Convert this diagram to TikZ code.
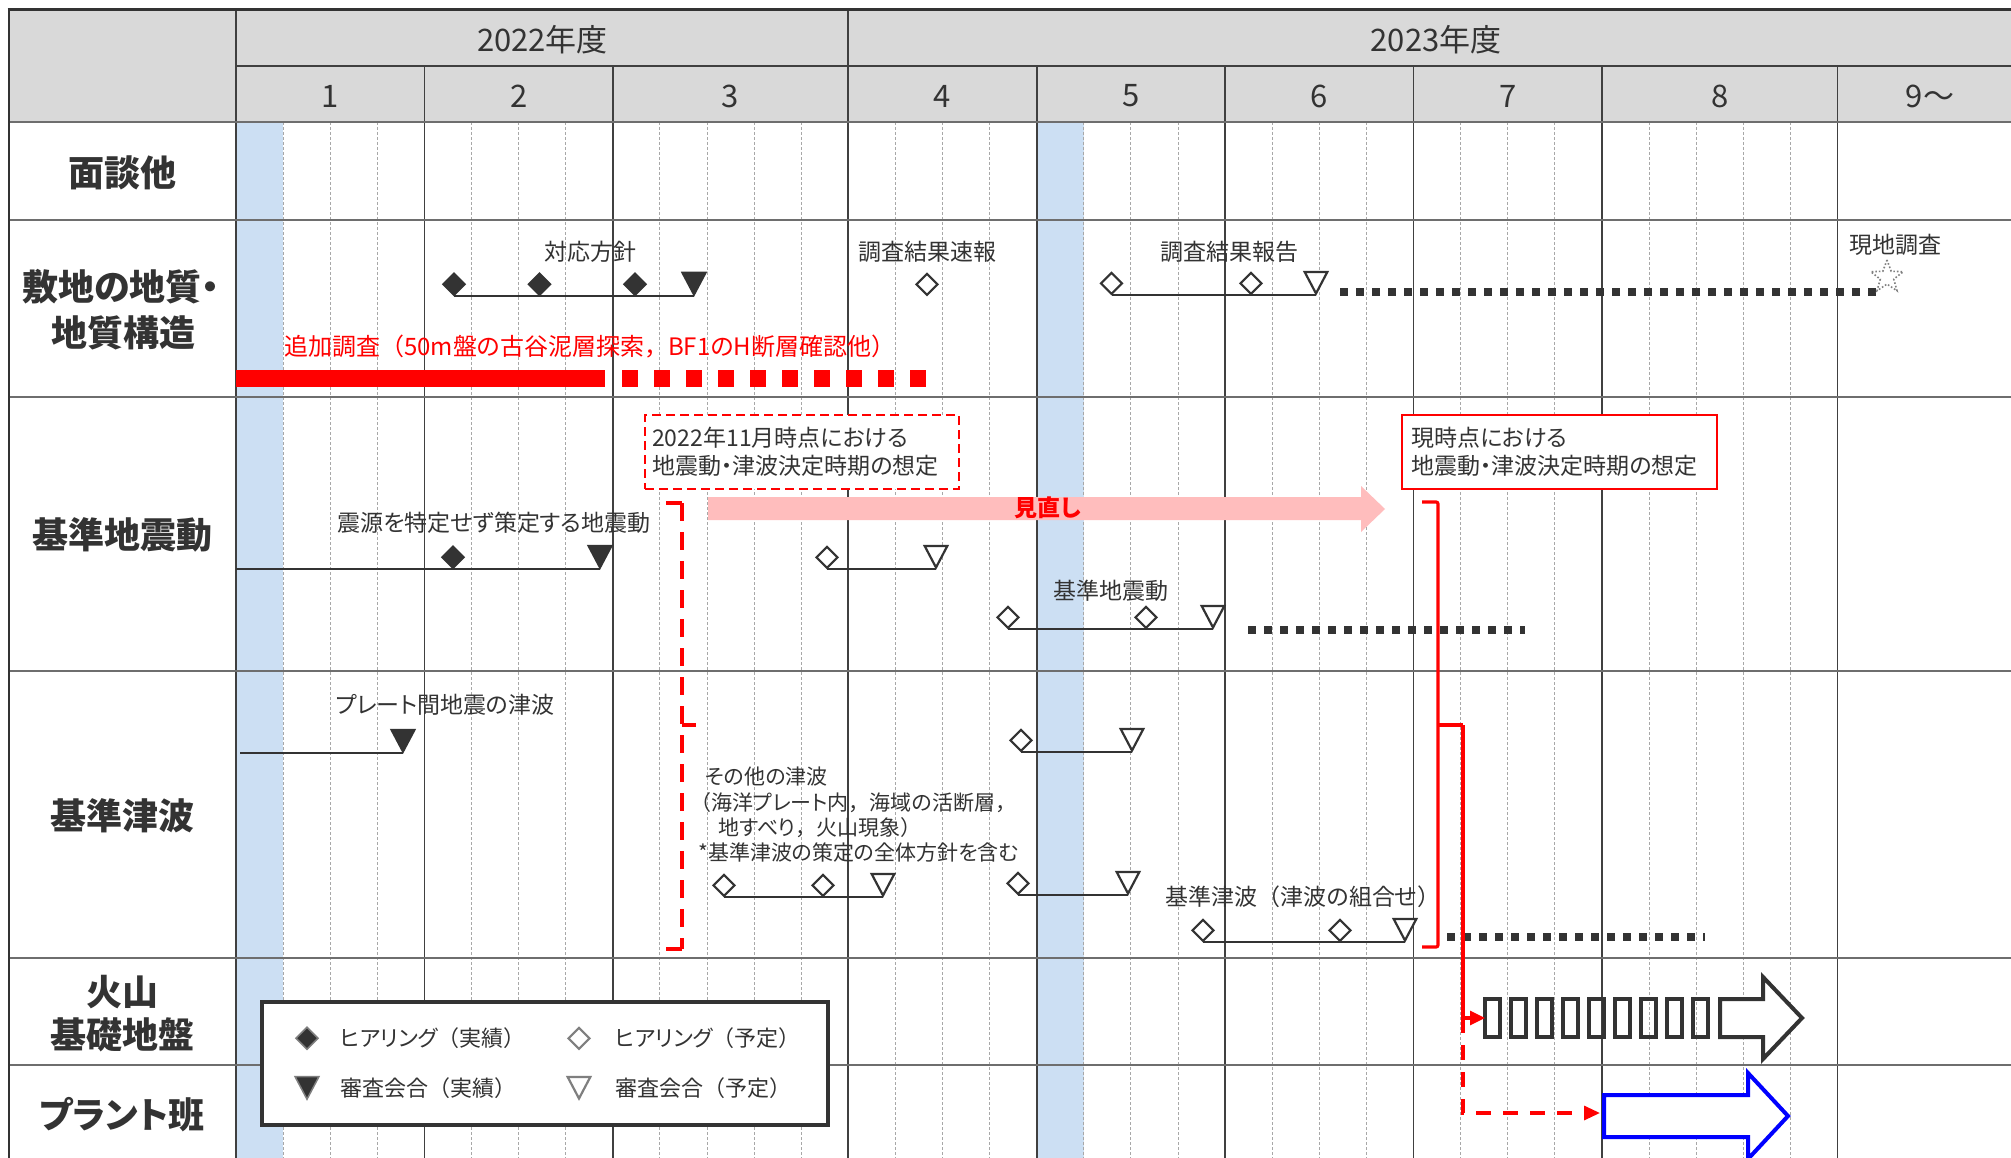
\documentclass[tikz,border=0pt]{standalone}
\usepackage{fontspec}
\setmainfont{Noto Sans CJK JP}[RawFeature=+palt]
\newfontfamily\fwfont{Noto Sans CJK JP}
\newcommand{\LP}{{\fwfont （}}
\newcommand{\RP}{{\fwfont ）}}
\newcommand{\CM}{{\fwfont ，}}
\usetikzlibrary{shapes.geometric,arrows.meta}
\definecolor{ink}{HTML}{333333}
\definecolor{hdr}{HTML}{D9D9D9}
\definecolor{band}{HTML}{CCDFF3}
\definecolor{rowline}{HTML}{6E6E6E}
\definecolor{monline}{HTML}{404040}
\definecolor{weekline}{HTML}{A8A8A8}
\definecolor{pinkarrow}{HTML}{FFBDBD}
\definecolor{legray}{HTML}{7F7F7F}
\definecolor{redc}{HTML}{FF0000}
\definecolor{bluec}{HTML}{0000FF}
\tikzset{
  txt/.style={font=\fontsize{23}{27}\selectfont, text=ink, inner sep=0pt},
  legtxt/.style={font=\fontsize{22}{26}\selectfont, text=ink, inner sep=0pt, anchor=west},
  note/.style={font=\fontsize{21}{25}\selectfont, text=ink, inner sep=0pt, anchor=west},
  rowlab/.style={font=\fontsize{36}{40}\selectfont\bfseries, text=ink, inner sep=0pt},
  hdrtxt/.style={font=\fontsize{31}{35}\selectfont, text=ink, inner sep=0pt},
  gline/.style={draw=ink, line width=1.8pt},
  sqdots/.style={draw=ink, line width=8pt, dash pattern=on 7.5pt off 8.5pt},
  wk/.style={draw=weekline, line width=0.9pt, dash pattern=on 3pt off 2pt},
  mon/.style={draw=monline, line width=1.7pt},
  rowl/.style={draw=rowline, line width=2.2pt},
  redsolid/.style={draw=redc, line width=3.2pt},
  reddash/.style={draw=redc, line width=3.5pt, dash pattern=on 18pt off 11pt},
  pics/hf/.style={code={\filldraw[fill=ink,draw=#1,line width=1.5pt,line join=miter] (0,-0.75) -- (11,-11.75) -- (0,-22.75) -- (-11,-11.75) -- cycle;}},
  pics/ho/.style={code={\filldraw[fill=white,draw=#1,line width=2.2pt,line join=miter] (0,-1.1) -- (10.5,-11.6) -- (0,-22.1) -- (-10.5,-11.6) -- cycle;}},
  pics/sf/.style={code={\filldraw[fill=ink,draw=#1,line width=1.5pt,line join=miter] (0,-0.8) -- (12,-23.5) -- (-12,-23.5) -- cycle;}},
  pics/so/.style={code={\filldraw[fill=white,draw=#1,line width=2.2pt,line join=miter] (0,-1.5) -- (11.3,-23) -- (-11.3,-23) -- cycle;}},
}
\begin{document}
\begin{tikzpicture}[x=1pt,y=-1pt]
\useasboundingbox (0,0) rectangle (2011,1158);
\clip (0,0) rectangle (2011,1158);
\fill[white] (0,0) rectangle (2011,1158);
% header background
\fill[hdr] (9,10) rectangle (2011,122);
% blue bands
\fill[band] (236,122) rectangle (283.1,1158);
\fill[band] (1036.7,122) rectangle (1083.8,1158);
% week lines
\foreach \k in {1,2,3,5,6,7,9,10,11,12,14,15,16,18,19,20,22,23,24,26,27,28,30,31,32,33}
  {\draw[wk] ({236+47.1*\k},122) -- ({236+47.1*\k},1158);}
% month lines
\foreach \k in {4,8,17,21,25,29,34}
  {\draw[mon] ({236+47.1*\k},66) -- ({236+47.1*\k},1158);}
\draw[mon] (848.3,10) -- (848.3,1158);
\draw[mon] (236,10) -- (236,1158);
% horizontal lines
\draw[mon] (236,66) -- (2011,66);
\foreach \yy in {122,220,397,671,958,1065}
  {\draw[rowl] (9,\yy) -- (2011,\yy);}
\draw[draw=ink, line width=3pt] (7.5,10) -- (2011,10);
\draw[draw=ink, line width=2.2pt] (9,10) -- (9,1158);
% header texts
\node[hdrtxt] (y22) at (542.5,40) {2022年度};
\node[hdrtxt] (y23) at (1436,40) {2023年度};
\node[hdrtxt] (m1) at (330.2,96) {1};
\node[hdrtxt] (m2) at (518.6,96) {2};
\node[hdrtxt] (m3) at (730.5,96) {3};
\node[hdrtxt] (m4) at (942.5,96) {4};
\node[hdrtxt] (m5) at (1130.9,96) {5};
\node[hdrtxt] (m6) at (1319.3,96) {6};
\node[hdrtxt] (m7) at (1507.7,96) {7};
\node[hdrtxt] (m8) at (1719.6,96) {8};
\node[hdrtxt] (m9) at (1930,96) {9～};
% row labels
\node[rowlab] (lab1) at (122,173) {面談他};
\node[rowlab] (lab2a) at (121,287) {敷地の地質・};
\node[rowlab] (lab2b) at (123,333) {地質構造};
\node[rowlab] (lab3) at (122,535) {基準地震動};
\node[rowlab] (lab4) at (122,816) {基準津波};
\node[rowlab] (lab5a) at (122,992) {火山};
\node[rowlab] (lab5b) at (122,1035) {基礎地盤};
\node[rowlab] (lab6) at (122,1115) {プラント班};

% ---- 敷地の地質・地質構造 ----
\node[txt] (t0) at (590,252) {対応方針};
\coordinate (t1) at (454,296);
\coordinate (t2) at (539.5,296);
\coordinate (t3) at (635,296);
\coordinate (t4) at (694,296);
\draw[gline] (t1) -- (t4);
\pic at (t1) {hf=ink}; \pic at (t2) {hf=ink}; \pic at (t3) {hf=ink}; \pic at (t4) {sf=ink};
\node[txt] (sk0) at (927,252) {調査結果速報};
\coordinate (sk) at (927,296);
\pic at (sk) {ho=ink};
\node[txt] (r0) at (1229,252) {調査結果報告};
\coordinate (r1) at (1111.5,295);
\coordinate (r2) at (1251,295);
\coordinate (r3) at (1316,295);
\draw[gline] (r1) -- (r3);
\pic at (r1) {ho=ink}; \pic at (r2) {ho=ink}; \pic at (r3) {so=ink};
\coordinate (d1s) at (1340,292);
\coordinate (d1e) at (1877,292);
\draw[sqdots] (d1s) -- (d1e);
\node[txt] (gen) at (1895,245) {現地調査};
\node[star, star points=5, star point ratio=2.4, minimum size=34pt, inner sep=0pt,
      draw=legray, line width=1.6pt, dash pattern=on 1.6pt off 2pt] (star) at (1887,277) {};
\node[txt, text=redc, anchor=west, font=\fontsize{24}{28}\selectfont] (addtxt) at (284,347) {追加調査\LP 50m盤の古谷泥層探索\CM BF1のH断層確認他\RP};
\coordinate (bar0) at (236,378.5);
\coordinate (bar1) at (605,378.5);
\coordinate (bar2) at (622,378.5);
\coordinate (bar3) at (926,378.5);
\draw[redc, line width=17pt] (bar0) -- (bar1);
\draw[redc, line width=17pt, dash pattern=on 16pt off 16pt] (bar2) -- (bar3);

% ---- 基準地震動 ----
\node[draw=redc, line width=2pt, dash pattern=on 9pt off 5pt, fill=white, anchor=north west,
      minimum width=314pt, minimum height=74pt, inner sep=0pt] (box1) at (644,414) {};
\node[txt, anchor=west] (box1a) at (652,438) {2022年11月時点における};
\node[txt, anchor=west] (box1b) at (652,466) {地震動・津波決定時期の想定};
\node[draw=redc, line width=2pt, fill=white, anchor=north west,
      minimum width=315pt, minimum height=74pt, inner sep=0pt] (box2) at (1401,414) {};
\node[txt, anchor=west] (box2a) at (1411,438) {現時点における};
\node[txt, anchor=west] (box2b) at (1411,466) {地震動・津波決定時期の想定};
\fill[pinkarrow] (708,497) -- (1361,497) -- (1361,486) -- (1385,509) -- (1361,532) -- (1361,520) -- (708,520) -- cycle;
\node[txt, text=redc, font=\fontsize{23}{27}\selectfont\bfseries] (minaoshi) at (1048,508) {見直し};

\node[txt] (s0) at (494,523) {震源を特定せず策定する地震動};
\coordinate (s1) at (236,569);
\coordinate (s2) at (453,569);
\coordinate (s3) at (600,569);
\draw[gline] (s1) -- (s3);
\pic at (s2) {hf=ink}; \pic at (s3) {sf=ink};
\coordinate (u1) at (827,569);
\coordinate (u2) at (936,569);
\draw[gline] (u1) -- (u2);
\pic at (u1) {ho=ink}; \pic at (u2) {so=ink};
\node[txt] (v0) at (1111,591) {基準地震動};
\coordinate (v1) at (1008,629);
\coordinate (v2) at (1146,629);
\coordinate (v3) at (1213,629);
\draw[gline] (v1) -- (v3);
\pic at (v1) {ho=ink}; \pic at (v2) {ho=ink}; \pic at (v3) {so=ink};
\coordinate (d2s) at (1248,630);
\coordinate (d2e) at (1525,630);
\draw[sqdots] (d2s) -- (d2e);

% ---- 基準津波 ----
\node[txt] (p0) at (445,705) {プレート間地震の津波};
\coordinate (p1) at (240,753);
\coordinate (p2) at (403,753);
\draw[gline] (p1) -- (p2);
\pic at (p2) {sf=ink};
\coordinate (q1) at (1021,752);
\coordinate (q2) at (1132,752);
\draw[gline] (q1) -- (q2);
\pic at (q1) {ho=ink}; \pic at (q2) {so=ink};
\node[note] (o0a) at (705,777) {その他の津波};
\node[note] (o0b) at (690,803) {\LP 海洋プレート内\CM 海域の活断層\CM};
\node[note] (o0c) at (718,828) {地すべり\CM 火山現象\RP};
\node[note] (o0d) at (698,853) {*基準津波の策定の全体方針を含む};
\coordinate (o1) at (724,897);
\coordinate (o2) at (823,897);
\coordinate (o3) at (883,897);
\draw[gline] (o1) -- (o3);
\pic at (o1) {ho=ink}; \pic at (o2) {ho=ink}; \pic at (o3) {so=ink};
\coordinate (w1) at (1018,895);
\coordinate (w2) at (1128,895);
\draw[gline] (w1) -- (w2);
\pic at (w1) {ho=ink}; \pic at (w2) {so=ink};
\node[txt] (z0) at (1303,897) {基準津波\LP 津波の組合せ\RP};
\coordinate (z1) at (1203,942);
\coordinate (z2) at (1340,942);
\coordinate (z3) at (1405,942);
\draw[gline] (z1) -- (z3);
\pic at (z1) {ho=ink}; \pic at (z2) {ho=ink}; \pic at (z3) {so=ink};
\coordinate (d3s) at (1447,937);
\coordinate (d3e) at (1705,937);
\draw[sqdots] (d3s) -- (d3e);

% ---- red braces ----
\coordinate (bA1) at (666,503);
\coordinate (bA2) at (682,503);
\coordinate (bA3) at (682,949);
\coordinate (bA4) at (666,949);
\coordinate (bAm) at (682,725);
\coordinate (bAt) at (696,725);
\draw[redsolid] (bA1) -- (bA2);
\draw[reddash] (bA2) -- (bA3);
\draw[redsolid] (bA3) -- (bA4);
\draw[redsolid] (bAm) -- (bAt);

\coordinate (bB1) at (1422,502);
\coordinate (bB2) at (1438,502);
\coordinate (bB3) at (1438,947);
\coordinate (bB4) at (1422,947);
\coordinate (bBm) at (1438,725);
\coordinate (bBt) at (1463,725);
\draw[redsolid, rounded corners=2pt] (bB1) -- (bB2) -- (bB3) -- (bB4);
\draw[redsolid] (bBm) -- (bBt);

% ---- striped arrow (火山・基礎地盤) ----
\foreach \i in {0,...,8}
  {\draw[draw=ink, line width=3.5pt] ({1485+26*\i},999) rectangle ({1500+26*\i},1037);}
\coordinate (stripe) at (1485,1018);
\draw[draw=ink, line width=4pt, line join=miter, fill=white]
  (1720,999) -- (1763,999) -- (1763,977) -- (1802,1018) -- (1763,1059) -- (1763,1037) -- (1720,1037) -- cycle;
% ---- blue arrow (プラント班) ----
\draw[draw=bluec, line width=4pt, line join=miter, fill=white]
  (1604,1095) -- (1748,1095) -- (1748,1073) -- (1788,1116) -- (1748,1159) -- (1748,1137) -- (1604,1137) -- cycle;
% red connectors
\coordinate (cj) at (1463,1018);
\coordinate (cb) at (1463,1113);
\coordinate (blueend) at (1600,1113);
\draw[redsolid, -{Triangle[length=15pt,width=14pt]}] (bBt) -- (cj) -- (stripe);
\draw[draw=redc, line width=3.2pt, dash pattern=on 15pt off 12pt, -{Triangle[length=16pt,width=14pt]}] (cj) -- (cb) -- (blueend);

% ---- legend ----
\node[draw=ink, line width=4pt, fill=white, minimum width=566pt, minimum height=123pt, inner sep=0pt] (legend) at (545,1063.5) {};
\coordinate (lg1) at (307,1050);
\coordinate (lg2) at (579,1050);
\coordinate (lg3) at (307,1100);
\coordinate (lg4) at (579,1100);
\pic at (lg1) {hf=legray};
\pic at (lg2) {ho=legray};
\pic at (lg3) {sf=legray};
\pic at (lg4) {so=legray};
\node[legtxt] (lt1) at (340,1038) {ヒアリング\LP 実績\RP};
\node[legtxt] (lt2) at (615,1038) {ヒアリング\LP 予定\RP};
\node[legtxt] (lt3) at (340,1088) {審査会合\LP 実績\RP};
\node[legtxt] (lt4) at (615,1088) {審査会合\LP 予定\RP};
\end{tikzpicture}
\end{document}
